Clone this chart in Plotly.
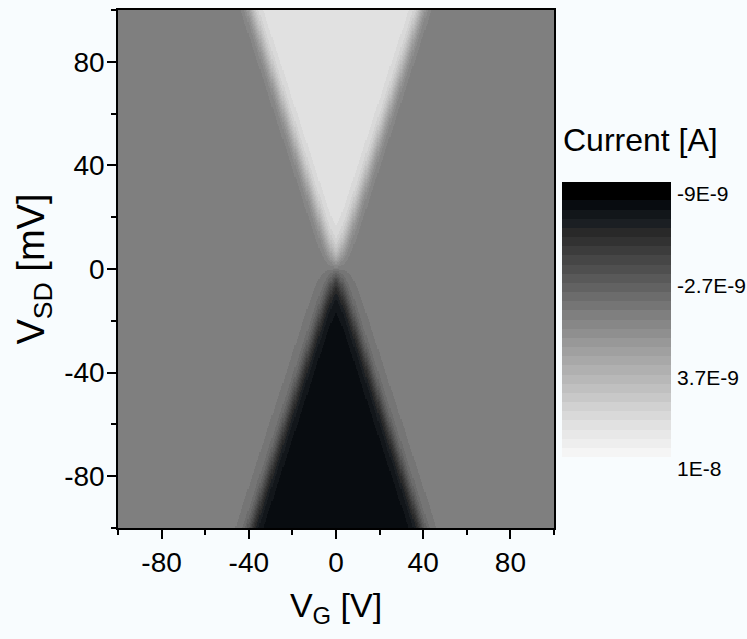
import numpy as np
import plotly.graph_objects as go

# Measurement grid
v_gate = np.linspace(-100, 100, 400)   # V_G [V]
v_sd = np.linspace(-100, 100, 400)     # V_SD [mV]

# Conduction-cone model parameters
cone_slope = 0.39        # |V_G| / |V_SD| along the cone edges
edge_width = 1.8         # V, smearing of the cone edges
onset_bias = 4.0         # mV, bias scale over which the cone current turns on
i_blockade = 0.0         # A, current outside the cones
i_positive = 7.8e-9      # A, cone at V_SD > 0
i_negative = -7.4e-9     # A, cone at V_SD < 0

# Colour scale
z_min, z_max = -9e-9, 1e-8
n_levels = 30
cbar_ticks = [-9e-9, -2.7e-9, 3.7e-9, 1e-8]
cbar_text = ["-9E-9", "-2.7E-9", "3.7E-9", "1E-8"]

# Axis ticks
major_ticks = [-80, -40, 0, 40, 80]
major_text = ["-80", "-40", "0", "40", "80"]
minor_ticks = [-100, -60, -20, 20, 60, 100]

FONT = "Liberation Sans, Arial, sans-serif"
BG = "#F8FCFE"

# Current map
VG, VSD = np.meshgrid(v_gate, v_sd)
inside = 1.0 / (1.0 + np.exp(-(cone_slope * np.abs(VSD) - np.abs(VG)) / edge_width))
inside *= 1.0 - np.exp(-np.abs(VSD) / onset_bias)
cone_level = np.where(VSD >= 0, i_positive, i_negative)
current = i_blockade + (cone_level - i_blockade) * inside

# Stepped grey colour scale (one flat colour per level)
idx = np.arange(n_levels)
grey = np.interp(idx, [0, 1, 2, 14, 26, 29], [0, 0, 12, 127, 225, 245])
colorscale = []
for i, g in enumerate(grey):
    g = int(round(g))
    if 0 < g < 40:
        col = f"rgb({max(g - 4, 0)},{g},{g + 4})"
    else:
        col = f"rgb({g},{g},{g})"
    colorscale.append([i / n_levels, col])
    colorscale.append([(i + 1) / n_levels, col])

level_edges = np.linspace(z_min, z_max, n_levels + 1)
level_centers = 0.5 * (level_edges[:-1] + level_edges[1:])

W, H = 747, 639
ml, mr, mt, mb = 118, 12, 10, 111
pw, ph = W - ml - mr, H - mt - mb


def px_x(p):
    return (p - ml) / pw


def px_y(p):
    return (H - mb - p) / ph


fig = go.Figure()

fig.add_trace(go.Heatmap(
    x=v_gate, y=v_sd, z=current,
    colorscale=colorscale, zmin=z_min, zmax=z_max,
    showscale=False, xaxis="x", yaxis="y",
    hovertemplate="V_G=%{x:.1f} V<br>V_SD=%{y:.1f} mV<br>I=%{z:.2e} A<extra></extra>",
))

# Colour bar drawn as its own heatmap, one cell per level
fig.add_trace(go.Heatmap(
    x=[0], y=level_centers, z=[[c] for c in level_centers],
    colorscale=colorscale, zmin=z_min, zmax=z_max,
    showscale=False, xaxis="x2", yaxis="y2", hoverinfo="skip",
))

axis_common = dict(
    showline=True, linecolor="black", linewidth=1.5, mirror=True,
    ticks="outside", ticklen=9, tickwidth=1.5, tickcolor="black",
    showgrid=False, zeroline=False, automargin=False,
    tickvals=major_ticks, ticktext=major_text,
    tickfont=dict(family=FONT, size=28, color="black"),
)
minor_common = dict(tickvals=minor_ticks, ticks="outside", ticklen=5,
                    tickwidth=1.5, tickcolor="black", showgrid=False)

fig.update_layout(
    width=W, height=H,
    margin=dict(l=ml, r=mr, t=mt, b=mb),
    paper_bgcolor=BG, plot_bgcolor=BG,
    font=dict(family=FONT, color="black"),
    showlegend=False,
    xaxis=dict(domain=[0, px_x(554)], range=[-100, 100], minor=minor_common,
               title=dict(text="V<sub>G</sub> [V]", standoff=16,
                          font=dict(family=FONT, size=34, color="black")),
               **axis_common),
    yaxis=dict(domain=[0, 1], range=[-100, 100], minor=minor_common,
               ticklabelstandoff=-3,
               title=dict(text="V<sub>SD</sub> [mV]", standoff=8,
                          font=dict(family=FONT, size=38, color="black")),
               **axis_common),
    xaxis2=dict(domain=[px_x(562), px_x(671)], range=[-0.5, 0.5], visible=False,
                anchor="y2", automargin=False),
    yaxis2=dict(domain=[px_y(457), px_y(182)], range=[z_max, z_min], anchor="x2",
                side="right", showline=False, showgrid=False, zeroline=False,
                automargin=False,
                ticks="", tickvals=cbar_ticks, ticktext=cbar_text,
                ticklabelstandoff=5, ticklabelshift=-12,
                tickfont=dict(family=FONT, size=21, color="black")),
    annotations=[dict(
        text="Current [A]", xref="paper", yref="paper",
        x=px_x(561), y=px_y(140), xanchor="left", yanchor="middle",
        showarrow=False, font=dict(family=FONT, size=32, color="black"),
    )],
)

fig.write_html("out.html")
